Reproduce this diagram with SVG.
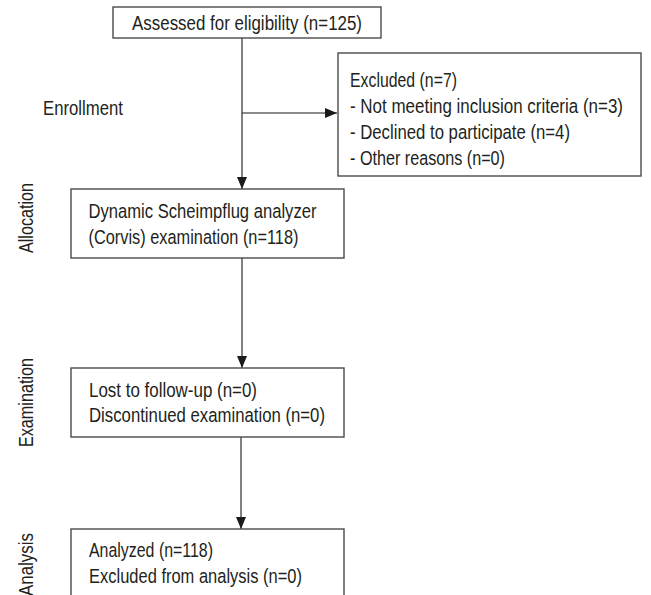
<svg xmlns="http://www.w3.org/2000/svg" width="651" height="595" viewBox="0 0 651 595">
<defs>
<style>
.box{fill:#fff;stroke:#4a4a4a;stroke-width:1.4}
.t{font-family:"Liberation Sans",Arial,sans-serif;font-size:20.5px;fill:#231f20}
.c{stroke:#1a1a1a;stroke-width:1.1;fill:none}
</style>
<marker id="ah" viewBox="0 0 12 10" refX="12" refY="5" markerWidth="12" markerHeight="10" markerUnits="userSpaceOnUse" orient="auto">
<path d="M0,0 L12,5 L0,10 z" fill="#1a1a1a"/>
</marker>
</defs>
<rect width="651" height="595" fill="#fff"/>
<g id="connectors">
<line class="c" x1="242" y1="38" x2="242" y2="189" marker-end="url(#ah)"/>
<line class="c" x1="242" y1="113" x2="337" y2="113" marker-end="url(#ah)"/>
<line class="c" x1="242" y1="258" x2="242" y2="368" marker-end="url(#ah)"/>
<line class="c" x1="241" y1="437" x2="241" y2="529" marker-end="url(#ah)"/>
</g>
<g id="stage-labels">
<text class="t" x="43" y="115" textLength="80" lengthAdjust="spacingAndGlyphs">Enrollment</text>
<text class="t" transform="translate(33,253) rotate(-90)" textLength="70" lengthAdjust="spacingAndGlyphs">Allocation</text>
<text class="t" transform="translate(33,447) rotate(-90)" textLength="89" lengthAdjust="spacingAndGlyphs">Examination</text>
<text class="t" transform="translate(33,596) rotate(-90)" textLength="63" lengthAdjust="spacingAndGlyphs">Analysis</text>
</g>
<g id="assessed">
<rect class="box" x="113" y="7" width="268" height="31"/>
<text class="t" x="132" y="30" textLength="230" lengthAdjust="spacingAndGlyphs">Assessed for eligibility (n=125)</text>
</g>
<g id="excluded">
<rect class="box" x="338" y="53" width="303" height="123"/>
<text class="t" x="350" y="86.5" textLength="107" lengthAdjust="spacingAndGlyphs">Excluded (n=7)</text>
<text class="t" x="350" y="112.5" textLength="273" lengthAdjust="spacingAndGlyphs">- Not meeting inclusion criteria (n=3)</text>
<text class="t" x="350" y="138.5" textLength="220" lengthAdjust="spacingAndGlyphs">- Declined to participate (n=4)</text>
<text class="t" x="350" y="164.5" textLength="155" lengthAdjust="spacingAndGlyphs">- Other reasons (n=0)</text>
</g>
<g id="allocation">
<rect class="box" x="71" y="189" width="273" height="69"/>
<text class="t" x="88.5" y="218" textLength="228" lengthAdjust="spacingAndGlyphs">Dynamic Scheimpflug analyzer</text>
<text class="t" x="88.5" y="244" textLength="210" lengthAdjust="spacingAndGlyphs">(Corvis) examination (n=118)</text>
</g>
<g id="examination">
<rect class="box" x="71" y="368" width="273" height="69"/>
<text class="t" x="89" y="396.5" textLength="168" lengthAdjust="spacingAndGlyphs">Lost to follow-up (n=0)</text>
<text class="t" x="89" y="421.5" textLength="236" lengthAdjust="spacingAndGlyphs">Discontinued examination (n=0)</text>
</g>
<g id="analysis">
<rect class="box" x="71" y="529" width="273" height="80"/>
<text class="t" x="89" y="557" textLength="124" lengthAdjust="spacingAndGlyphs">Analyzed (n=118)</text>
<text class="t" x="89" y="583" textLength="213" lengthAdjust="spacingAndGlyphs">Excluded from analysis (n=0)</text>
</g>
</svg>
